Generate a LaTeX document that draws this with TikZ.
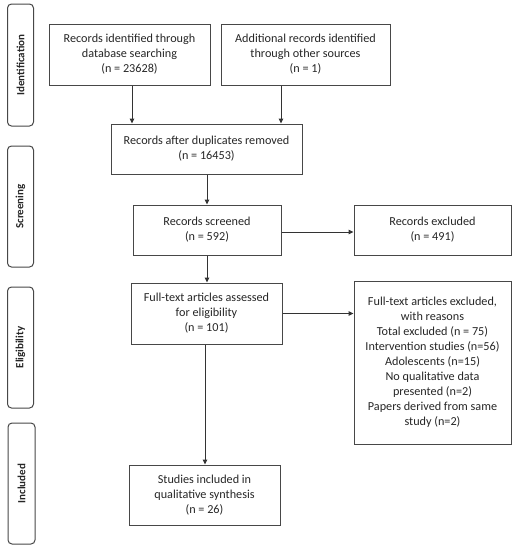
\documentclass[tikz,border=0pt]{standalone}
\usepackage{fontspec}
\setmainfont{Carlito}
\usetikzlibrary{arrows.meta}
\begin{document}
\begin{tikzpicture}[x=1pt,y=-1pt,
  line width=1pt,
  box/.style={draw=black!72, rectangle, align=center, font=\fontsize{12.2}{15}\selectfont, text=black!85, inner sep=2pt},
  side/.style={draw=black!72, rounded corners=4pt, font=\fontsize{11}{13}\selectfont\bfseries, text=black!85},
  arr/.style={draw=black!80, -{Triangle[length=5pt,width=4.5pt]}}]
\useasboundingbox (0,0) rectangle (516,550);
% side labels
\node[side, rotate=90, minimum width=122pt, minimum height=26pt] (sid) at (20.5,65) {Identification};
\node[side, rotate=90, minimum width=121pt, minimum height=26pt] (sscr) at (20.5,206.5) {Screening};
\node[side, rotate=90, minimum width=121pt, minimum height=26pt] (selig) at (20.5,347.5) {Eligibility};
\node[side, rotate=90, minimum width=121pt, minimum height=27pt] (sinc) at (21.5,483.5) {Included};
% boxes
\node[box, minimum width=161pt, minimum height=61pt] (db) at (129.5,54.5) {Records identified through\\database searching\\(n = 23628)};
\node[box, minimum width=169pt, minimum height=61pt] (other) at (305.5,54.5) {Additional records identified\\through other sources\\(n = 1)};
\node[box, minimum width=191pt, minimum height=50pt] (dup) at (206.5,149) {Records after duplicates removed\\(n = 16453)};
\node[box, minimum width=148pt, minimum height=50pt] (scr) at (207,230) {Records screened\\(n = 592)};
\node[box, minimum width=157pt, minimum height=50pt] (exc) at (432.5,230) {Records excluded\\(n = 491)};
\node[box, minimum width=151pt, minimum height=61pt] (full) at (206.5,313.5) {Full-text articles assessed\\for eligibility\\(n = 101)};
\node[box, minimum width=157pt, minimum height=163pt] (exc2) at (432.5,362.5) {Full-text articles excluded,\\with reasons\\Total excluded (n = 75)\\Intervention studies (n=56)\\Adolescents (n=15)\\No qualitative data\\presented (n=2)\\Papers derived from same\\study (n=2)};
\node[box, minimum width=151pt, minimum height=60pt] (inc) at (204.5,495) {Studies included in\\qualitative synthesis\\(n = 26)};
% arrows
\draw[arr] ([xshift=2.5pt]db.south) -- ([xshift=2.5pt]db.south |- dup.north);
\draw[arr] ([xshift=-24.5pt]other.south) -- ([xshift=-24.5pt]other.south |- dup.north);
\draw[arr] ([xshift=0.5pt]dup.south) -- ([xshift=0.5pt]dup.south |- scr.north);
\draw[arr] (scr.south) -- (scr.south |- full.north);
\draw[arr] ([yshift=-2pt]scr.east) -- ([yshift=-2pt]scr.east -| exc.west);
\draw[arr] (full.east) -- (full.east -| exc2.west);
\draw[arr] ([xshift=-1.5pt]full.south) -- ([xshift=-1.5pt]full.south |- inc.north);
\end{tikzpicture}
\end{document}
